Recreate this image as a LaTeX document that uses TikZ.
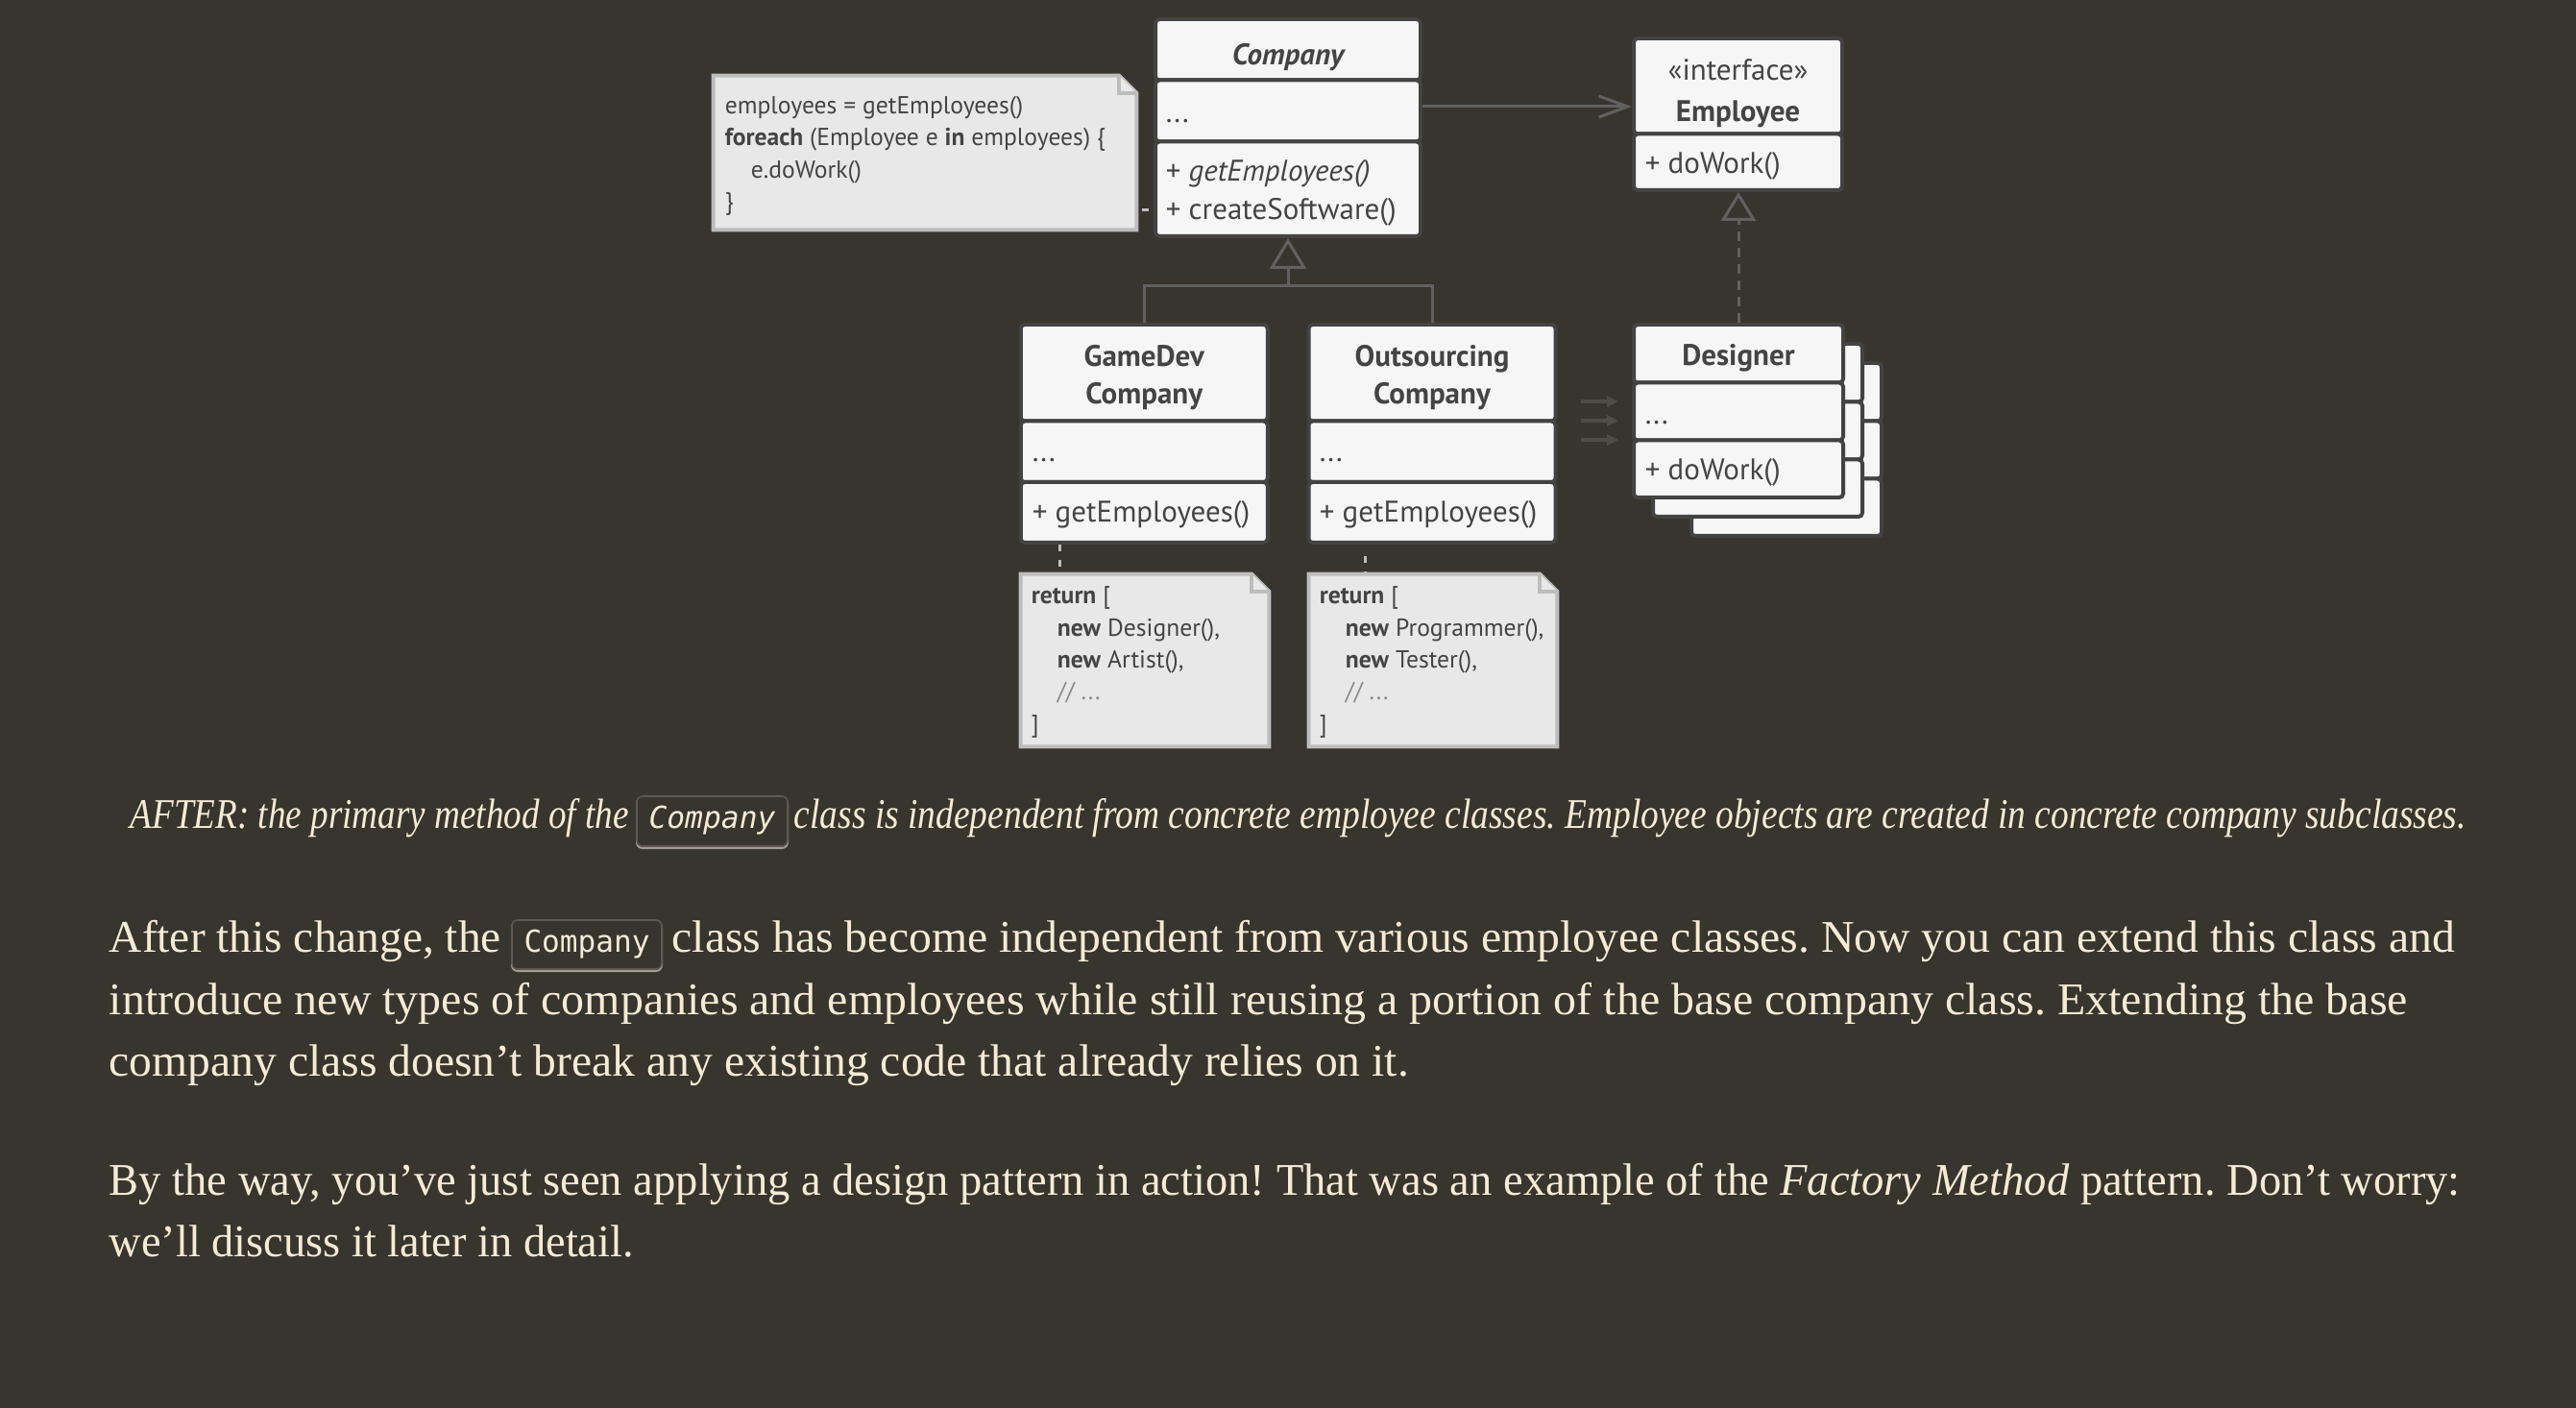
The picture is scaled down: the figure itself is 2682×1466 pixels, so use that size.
\documentclass[tikz,border=0pt]{standalone}
\usepackage{fontspec}
\usepackage{graphicx}
\setmainfont{Liberation Serif}
\newfontfamily\dsans{PT Sans}
\newfontfamily\dmono{DejaVu Sans Mono}
\usetikzlibrary{arrows.meta,calc,backgrounds}
\frenchspacing

\definecolor{bgc}{HTML}{38342E}
\definecolor{boxfill}{HTML}{F6F6F6}
\definecolor{boxline}{HTML}{434343}
\definecolor{boxtext}{HTML}{444444}
\definecolor{notefill}{HTML}{E8E8E8}
\definecolor{noteline}{HTML}{BDBDBD}
\definecolor{connc}{HTML}{616161}
\definecolor{cream}{HTML}{F5EBD5}
\definecolor{codeline}{HTML}{5E5952}
\definecolor{codeshade}{HTML}{A39D93}
\definecolor{faint}{HTML}{4F4C47}
\definecolor{commentc}{HTML}{8A8A8A}

\newcommand\clsfont{\dsans\fontsize{7.75}{9.75}\selectfont}
\newcommand\notefont{\dsans\fontsize{6.4}{8.33}\selectfont}
\newcommand\bodyfont{\fontsize{11.8}{13}\selectfont}
\newcommand\captfont{\fontsize{11}{12}\selectfont\itshape}
\newcommand\codefont{\dmono\fontsize{7.9}{9}\selectfont}

\newsavebox\fitbox
\newlength\fitlen
\newcommand\fitw[2]{\sbox\fitbox{#2}\fitlen=\wd\fitbox\pgfmathsetmacro\fitr{#1/\fitlen}\scalebox{\fitr}[1]{\usebox\fitbox}}

\newcommand\drawnote[1]{%
  \filldraw[fill=notefill, draw=noteline, line width=1pt, line join=miter]
    (#1.north west) -- ($(#1.north east)+(-4.5pt,0)$) -- ($(#1.north east)+(0,-4.5pt)$)
    -- (#1.south east) -- (#1.south west) -- cycle;
  \filldraw[fill=notefill, draw=noteline, line width=1pt, line join=miter]
    ($(#1.north east)+(-4.5pt,0)$) -- ($(#1.north east)+(-4.5pt,-4.5pt)$) -- ($(#1.north east)+(0,-4.5pt)$);
}

\begin{document}
\begin{tikzpicture}[x=0.25pt,y=-0.25pt,
  sec/.style={draw=boxline, fill=boxfill, line width=1pt, rounded corners=1pt, inner sep=0pt, text=boxtext, font=\clsfont},
  htxt/.style={inner sep=0pt, text=boxtext, font=\clsfont\bfseries, align=center, yshift=-1.25pt},
  lbl/.style={anchor=base west, inner sep=0pt, text=boxtext, font=\clsfont},
  notebox/.style={inner sep=0pt, draw=none, minimum width=64.25pt, minimum height=44.5pt},
  notetxt/.style={anchor=north west, inner sep=0pt, align=left, text=boxtext, font=\notefont},
  conn/.style={draw=connc, line width=0.75pt},
  assoc/.style={conn, -{Straight Barb[length=7.5pt,width=5.5pt]}},
  gen/.style={conn, -{Triangle[open,length=8pt,width=9.5pt]}},
  real/.style={conn, dash pattern=on 2.5pt off 1.75pt, -{Triangle[open,length=7.5pt,width=9pt]}},
  notelink/.style={draw=noteline, line width=0.75pt, dash pattern=on 1.75pt off 2.2pt},
  hint/.style={draw=faint, line width=0.9pt, -{Triangle[length=3pt,width=2.8pt]}},
  body/.style={anchor=base west, inner sep=0pt, text=cream, font=\bodyfont},
  capt/.style={anchor=base west, inner sep=0pt, text=cream, font=\captfont},
  codebox/.style={draw=codeline, fill=bgc, line width=0.4pt, rounded corners=1.5pt, inner sep=0pt, text=cream, font=\codefont,
     preaction={draw=codeshade, line width=0.5pt, transform canvas={yshift=-0.5pt}}}
]
\useasboundingbox (0,0) rectangle (2682,1466);
\begin{scope}[on background layer]
  \fill[bgc] (0,0) rectangle (2682,1466);
\end{scope}

% ---------- Company ----------
\node[sec, minimum width=69pt, minimum height=15.875pt] (cH) at (1341,51.75) {};
\node[sec, minimum width=69pt, minimum height=16pt] (cF) at (1341,115.5) {};
\node[sec, minimum width=69pt, minimum height=24.625pt] (cM) at (1341,196.75) {};
\node[htxt, font=\clsfont\bfseries\itshape, yshift=-0.75pt] (cHt) at (cH.center) {Company};
\node[lbl] (cFt) at (1213,128) {...};
\node[lbl] (cMt1) at (1213,189) {+ \textit{getEmployees()}};
\node[lbl] (cMt2) at (1213,229) {+ createSoftware()};

% ---------- Employee ----------
\node[sec, minimum width=54.25pt, minimum height=24.875pt] (eH) at (1809.5,89.75) {};
\node[sec, minimum width=54.25pt, minimum height=14.625pt] (eM) at (1809.5,168.75) {};
\node[htxt, font=\dsans\fontsize{7.75}{10.75}\selectfont, yshift=-0.5pt] (eHt) at (eH.center) {«interface»\\ \textbf{Employee}};
\node[lbl] (eMt) at (1712,181) {+ doWork()};

% ---------- GameDev Company ----------
\node[sec, minimum width=64.25pt, minimum height=25.125pt] (gH) at (1191.25,388.25) {};
\node[sec, minimum width=64.25pt, minimum height=15.875pt] (gF) at (1191.25,470.25) {};
\node[sec, minimum width=64.25pt, minimum height=15.75pt] (gM) at (1191.25,533.5) {};
\node[htxt] (gHt) at (gH.center) {GameDev\\ Company};
\node[lbl] (gFt) at (1074,481) {...};
\node[lbl] (gMt) at (1074,543) {+ getEmployees()};

% ---------- Outsourcing Company ----------
\node[sec, minimum width=64.25pt, minimum height=25.125pt] (oH) at (1491,388.25) {};
\node[sec, minimum width=64.25pt, minimum height=15.875pt] (oF) at (1491,470.25) {};
\node[sec, minimum width=64.25pt, minimum height=15.75pt] (oM) at (1491,533.5) {};
\node[htxt] (oHt) at (oH.center) {Outsourcing\\ Company};
\node[lbl] (oFt) at (1373,481) {...};
\node[lbl] (oMt) at (1373,543) {+ getEmployees()};

% ---------- Designer stack ----------
\node[sec, minimum width=49.5pt, minimum height=15.125pt] (d3H) at (1860,408.25) {};
\node[sec, minimum width=49.5pt, minimum height=15pt] (d3F) at (1860,468.5) {};
\node[sec, minimum width=49.5pt, minimum height=14.875pt] (d3M) at (1860,528.25) {};
\node[sec, minimum width=54.5pt, minimum height=15.125pt] (d2H) at (1830,388.25) {};
\node[sec, minimum width=54.5pt, minimum height=15pt] (d2F) at (1830,448.5) {};
\node[sec, minimum width=54.5pt, minimum height=14.875pt] (d2M) at (1830,508.25) {};
\node[sec, minimum width=54.5pt, minimum height=15.125pt] (dH) at (1810,368.25) {};
\node[sec, minimum width=54.5pt, minimum height=15pt] (dF) at (1810,428.5) {};
\node[sec, minimum width=54.5pt, minimum height=14.875pt] (dM) at (1810,488.25) {};
\node[htxt] (dHt) at (dH.center) {Designer};
\node[lbl] (dFt) at (1712,441) {...};
\node[lbl] (dMt) at (1712,499) {+ doWork()};

% ---------- Notes ----------
\node[notebox, minimum width=109.75pt, minimum height=39.75pt] (n1) at (963,159) {};
\node[notebox] (nG) at (1192,687.5) {};
\node[notebox] (nO) at (1492,687.5) {};
\begin{scope}[on background layer]
  \drawnote{n1}
  \drawnote{nG}
  \drawnote{nO}
\end{scope}
\node[notetxt] (n1t) at (754,94.5) {\strut employees = getEmployees()\\ \textbf{foreach} (Employee e \textbf{in} employees) \{\\ \hspace*{6.75pt}e.doWork()\\ \}};
\node[notetxt] (nGt) at (1073,604.7) {\strut\textbf{return} [\\ \hspace*{6.75pt}\textbf{new} Designer(),\\ \hspace*{6.75pt}\textbf{new} Artist(),\\ \hspace*{6.75pt}\textcolor{commentc}{// ...}\\ ]};
\node[notetxt] (nOt) at (1373,604.7) {\strut\textbf{return} [\\ \hspace*{6.75pt}\textbf{new} Programmer(),\\ \hspace*{6.75pt}\textbf{new} Tester(),\\ \hspace*{6.75pt}\textcolor{commentc}{// ...}\\ ]};

% ---------- Connectors ----------
\draw[assoc] ([yshift=1.125pt]cF.east) -- ([yshift=1.125pt]cF.east -| eH.west);
\coordinate (gj) at (1341,298);
\draw[conn] (gH.north) |- (gj) -| (oH.north);
\draw[gen] (gj) -- (cM.south);
\draw[real] (dH.north) -- (dH.north |- eM.south);
\draw[notelink, shorten <=1.4pt] ([yshift=-15pt]n1.east) -- ([yshift=-15pt]n1.east -| cM.west);
\draw[notelink] ([xshift=-22.06pt]gM.south) -- ([xshift=-22.06pt]gM.south |- nG.north);
\draw[notelink, shorten <=3pt] ([xshift=-17.5pt]oM.south) -- ([xshift=-17.5pt]oM.south |- nO.north);

\coordinate (h1s) at (1646,418); \coordinate (h1e) at (1685,418);
\coordinate (h2s) at (1646,438); \coordinate (h2e) at (1685,438);
\coordinate (h3s) at (1646,458); \coordinate (h3e) at (1685,458);
\draw[hint] (h1s) -- (h1e);
\draw[hint] (h2s) -- (h2e);
\draw[hint] (h3s) -- (h3e);

% ---------- Caption ----------
\node[capt] (cap1) at (135,862) {\fitw{129.75}{AFTER: the primary method of the}};
\node[codebox, minimum width=39.25pt, minimum height=13pt, text height=6.5pt, text depth=3pt] (capcode) at (741.5,855) {\fitw{33}{\itshape Company}};
\node[capt] (cap2) at (826,862) {\fitw{435.25}{class is independent from concrete employee classes. Employee objects are created in concrete company subclasses.}};

% ---------- Paragraphs ----------
\node[body] (l1a) at (113,991) {\fitw{102}{After this change, the}};
\node[codebox, minimum width=39pt, minimum height=12.75pt, text height=6.75pt, text depth=3pt] (l1code) at (611,983.5) {\fitw{32.75}{Company}};
\node[body] (l1b) at (699,991) {\fitw{464}{class has become independent from various employee classes. Now you can extend this class and}};
\node[body] (l2) at (113,1056) {\fitw{598.25}{introduce new types of companies and employees while still reusing a portion of the base company class. Extending the base}};
\node[body] (l3) at (113,1120) {\fitw{338.25}{company class doesn’t break any existing code that already relies on it.}};
\node[body] (p2a) at (113,1244) {\fitw{612}{By the way, you’ve just seen applying a design pattern in action! That was an example of the \textit{Factory Method} pattern. Don’t worry:}};
\node[body] (p2b) at (113,1308) {\fitw{136.5}{we’ll discuss it later in detail.}};
\end{tikzpicture}
\end{document}
